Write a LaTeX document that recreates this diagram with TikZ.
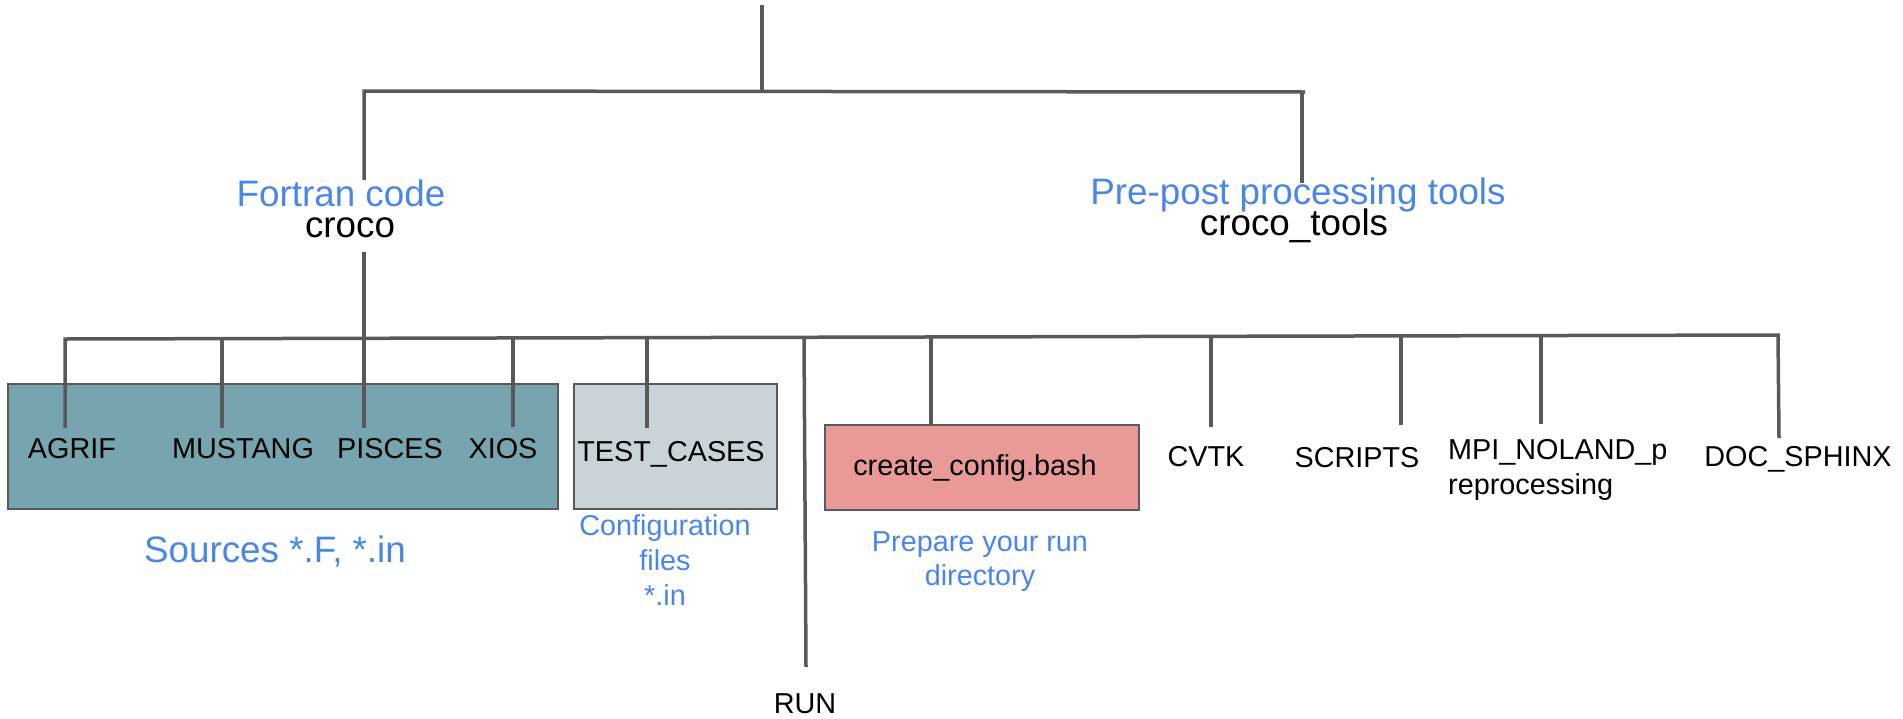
\documentclass[tikz,border=0pt]{standalone}
\usepackage{fontspec}
\setmainfont{Liberation Sans}
\definecolor{linegray}{HTML}{595959}
\definecolor{tealfill}{HTML}{76A5AF}
\definecolor{grayfill}{HTML}{CAD3D8}
\definecolor{redfill}{HTML}{EA9999}
\definecolor{bluetxt}{HTML}{4A86E8}
\begin{document}
\begin{tikzpicture}[x=1pt,y=-1pt,
  conn/.style={draw=linegray,line width=3.5pt},
  boxnode/.style={draw=linegray,line width=1.8pt,inner sep=0pt,anchor=north west},
  lbl/.style={inner sep=0pt,anchor=base,font=\fontsize{28.8}{34.8}\selectfont},
  big/.style={inner sep=0pt,anchor=base,font=\fontsize{36.8}{40}\selectfont},
  note/.style={text=bluetxt}]
\useasboundingbox (0,0) rectangle (1903,718);

% boxes
\node[boxnode,fill=tealfill,minimum width=550pt,minimum height=125pt] (srcbox) at (7,383) {};
\node[boxnode,fill=grayfill,minimum width=203pt,minimum height=125pt] (testbox) at (573,383) {};
\node[boxnode,fill=redfill,minimum width=314pt,minimum height=85pt] (cfgbox) at (824,424) {};

% junction coordinates
\coordinate (root) at (762,5);
\coordinate (jtop) at (762,91);
\coordinate (jL) at (364,91);
\coordinate (jR) at (1305,92);
\coordinate (jRv) at (1302,92);
\coordinate (endFortran) at (364,180);
\coordinate (endTools) at (1302,183);
\coordinate (startCroco) at (364,252);
\coordinate (b2L) at (65,339);
\coordinate (b2R) at (1780,335);
\coordinate (endAgrif) at (65,428);
\coordinate (jMustang) at (222,339);   \coordinate (endMustang) at (222,428);
\coordinate (endPisces) at (364,428);
\coordinate (jXios) at (513,338);      \coordinate (endXios) at (513,427);
\coordinate (jTest) at (647,338);      \coordinate (endTest) at (647,428);
\coordinate (jRun) at (804,338);       \coordinate (endRun) at (806,667);
\coordinate (jCfg) at (931,337);       \coordinate (endCfg) at (931,425);
\coordinate (jCvtk) at (1211,336);     \coordinate (endCvtk) at (1211,427);
\coordinate (jScripts) at (1401,336);  \coordinate (endScripts) at (1401,425);
\coordinate (jMpi) at (1541,335);      \coordinate (endMpi) at (1541,424);
\coordinate (jDoc) at (1778,335);      \coordinate (endDoc) at (1779,438);

% connectors
\draw[conn] (root) -- (jtop);
\draw[conn] (endFortran) -- (jL) -- (jR);
\draw[conn] (jRv) -- (endTools);
\draw[conn] (startCroco) -- (endPisces);
\draw[conn] (endAgrif) -- (b2L) -- (b2R);
\draw[conn] (jMustang) -- (endMustang);
\draw[conn] (jXios) -- (endXios);
\draw[conn] (jTest) -- (endTest);
\draw[conn] (jRun) -- (endRun);
\draw[conn] (jCfg) -- (endCfg);
\draw[conn] (jCvtk) -- (endCvtk);
\draw[conn] (jScripts) -- (endScripts);
\draw[conn] (jMpi) -- (endMpi);
\draw[conn] (jDoc) -- (endDoc);

% labels
\node[big,note] (fortran) at (341,206) {Fortran code};
\node[big] (croco) at (350,237) {croco};
\node[big,note] (prepost) at (1298,204) {Pre-post processing tools};
\node[big] (crocotools) at (1294,235) {croco\_tools};

\node[lbl] (agrif) at (72,458) {AGRIF};
\node[lbl] (mustang) at (243,458) {MUSTANG};
\node[lbl] (pisces) at (390,458) {PISCES};
\node[lbl] (xios) at (503,458) {XIOS};
\node[lbl] (testcases) at (671,461) {TEST\_CASES};
\node[lbl] (createcfg) at (975,475) {create\_config.bash};
\node[lbl] (cvtk) at (1206,466) {CVTK};
\node[lbl] (scripts) at (1357,467) {SCRIPTS};
\node[lbl,align=left,anchor=north west] (mpi) at (1448,439) {MPI\_NOLAND\_p\\reprocessing};
\node[lbl] (docsphinx) at (1798,466) {DOC\_SPHINX};
\node[lbl] (run) at (805,713) {RUN};

\node[big,note] (sources) at (275,562) {Sources *.F, *.in};
\node[lbl,note,align=center,anchor=north] (conf) at (665,514.5) {Configuration\\files\\*.in};
\node[lbl,note,align=center,anchor=north] (prep) at (980,531) {Prepare your run\\directory};
\end{tikzpicture}
\end{document}
